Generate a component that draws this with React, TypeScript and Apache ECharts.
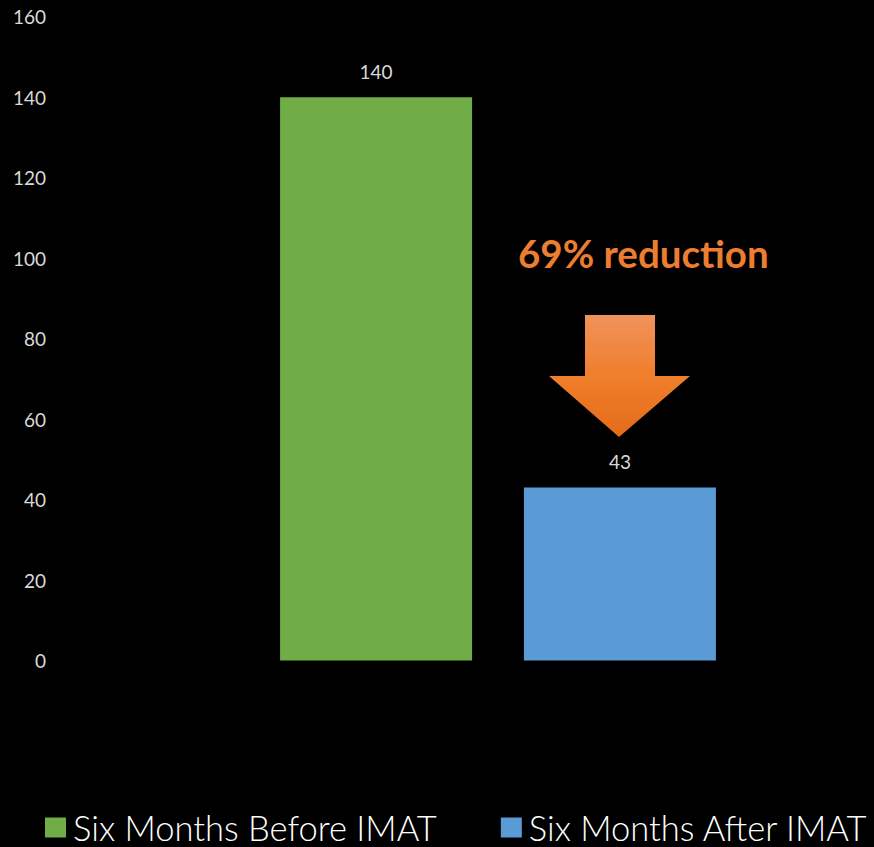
import React, { useEffect, useRef } from "react";
import * as echarts from "echarts";

const categories = ["IMAT"];
const seriesNames = ["Six Months Before IMAT", "Six Months After IMAT"];
const beforeValues = [140];
const afterValues = [43];
const seriesColors = ["#70AD47", "#5B9BD5"];
const yTicks = { min: 0, max: 160, interval: 20 };
const annotationText = "69% reduction";

export default function App() {
  const ref = useRef<HTMLDivElement>(null);
  useEffect(() => {
    document.body.style.margin = "0";
    document.body.style.background = "#000";
    const chart = echarts.init(ref.current!, null, { renderer: "svg" });
    const labelStyle = {
      show: true,
      position: "top" as const,
      distance: 16,
      color: "#D9D9D9",
      fontFamily: "Lato",
      fontSize: 19,
    };
    chart.setOption({
      animation: false,
      backgroundColor: "#000000",
      grid: { left: 130, right: 8, top: 16.7, bottom: 186.5 },
      xAxis: {
        type: "category",
        data: categories,
        axisLine: { show: false },
        axisTick: { show: false },
        axisLabel: { show: false },
      },
      yAxis: {
        type: "value",
        min: yTicks.min,
        max: yTicks.max,
        interval: yTicks.interval,
        axisLine: { show: false },
        axisTick: { show: false },
        splitLine: { show: false },
        axisLabel: {
          margin: 84,
          color: "#D9D9D9",
          fontFamily: "Lato",
          fontSize: 19,
        },
      },
      legend: {
        left: 45,
        top: 810,
        padding: 0,
        itemWidth: 21,
        itemHeight: 20,
        itemGap: 64,
        icon: "rect",
        data: seriesNames,
        textStyle: {
          color: "#FFFFFF",
          fontFamily: "Lato",
          fontWeight: 300,
          fontSize: 34.5,
          lineHeight: 34,
          padding: [0, 0, 0, 2],
        },
      },
      series: [
        {
          name: seriesNames[0],
          type: "bar",
          data: beforeValues,
          barWidth: 192,
          barGap: "27%",
          itemStyle: { color: seriesColors[0] },
          label: labelStyle,
        },
        {
          name: seriesNames[1],
          type: "bar",
          data: afterValues,
          barWidth: 192,
          barGap: "27%",
          itemStyle: { color: seriesColors[1] },
          label: labelStyle,
        },
      ],
      graphic: [
        {
          type: "text",
          left: 518,
          top: 233,
          style: {
            text: annotationText,
            fill: "#ED7D31",
            font: "bold 38.5px Lato",
          },
        },
        {
          type: "polygon",
          shape: {
            points: [
              [585, 315],
              [655, 315],
              [655, 376],
              [690, 376],
              [619, 437],
              [549, 376],
              [585, 376],
            ],
          },
          style: {
            fill: new echarts.graphic.LinearGradient(0, 0, 0, 1, [
              { offset: 0, color: "#F0925C" },
              { offset: 0.5, color: "#F07E2C" },
              { offset: 1, color: "#E46C18" },
            ]),
          },
        },
      ],
    });
    return () => chart.dispose();
  }, []);
  return <div ref={ref} style={{ width: 874, height: 847 }} />;
}
